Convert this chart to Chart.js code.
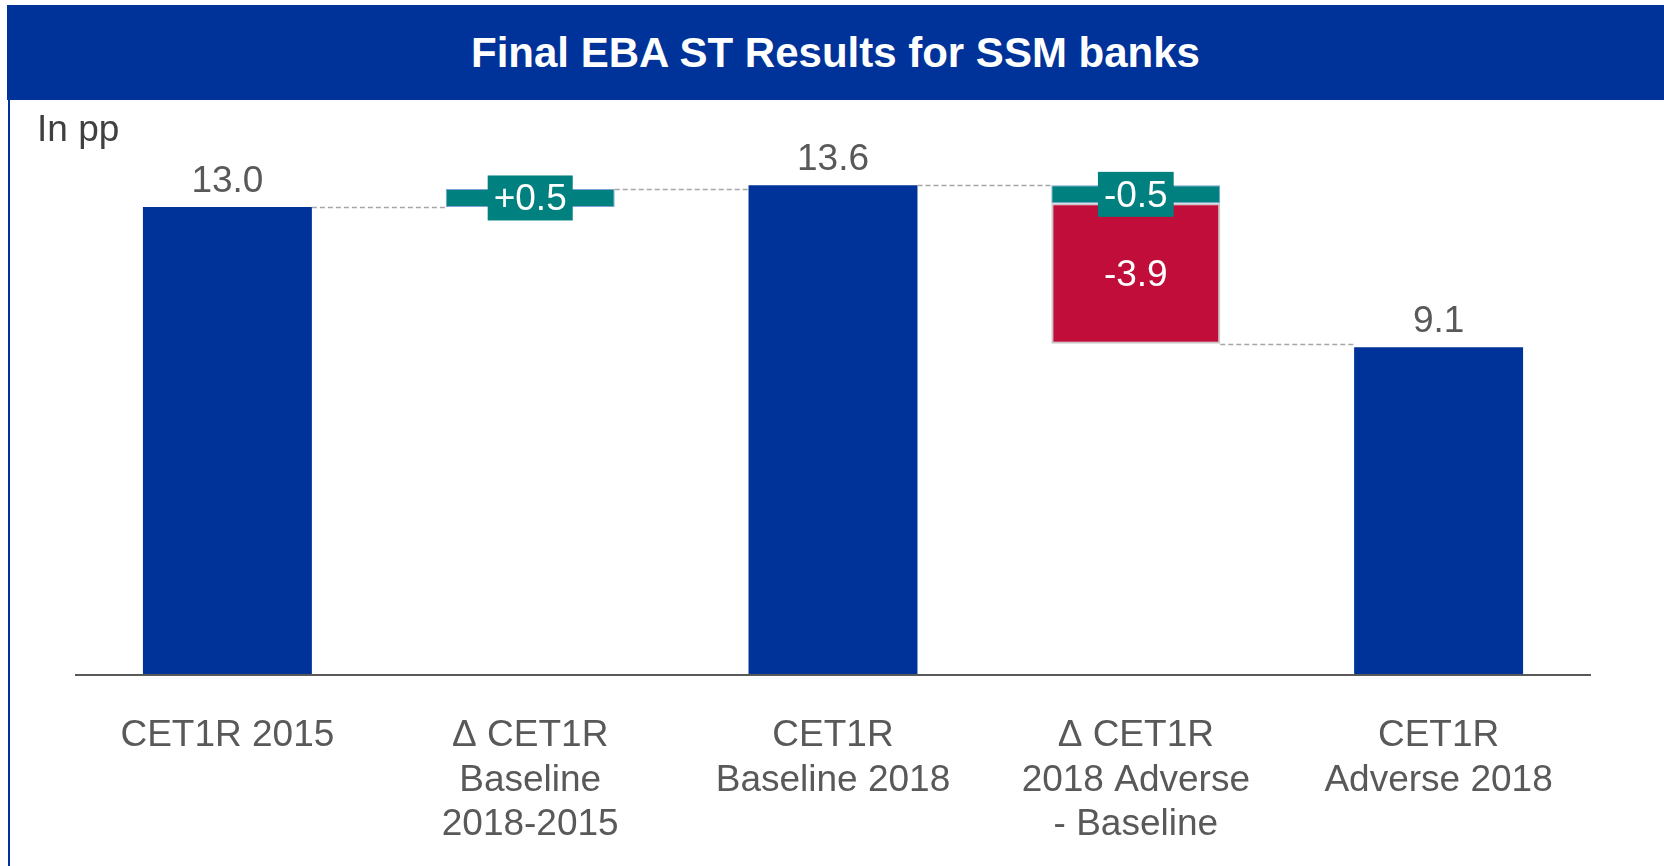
<!DOCTYPE html>
<html>
<head>
<meta charset="utf-8">
<title>Final EBA ST Results for SSM banks</title>
<script src="https://cdn.jsdelivr.net/npm/chart.js@4/dist/chart.umd.min.js"></script>
<style>
    html, body { margin: 0; padding: 0; background: #fff; overflow: hidden; }
    body { width: 1664px; height: 866px; position: relative; font-family: "Liberation Sans", Arial, sans-serif; }
    .banner {
        position: absolute; left: 7px; top: 5px; width: 1657px; height: 95px;
        background: #003399; color: #fff; font-weight: bold; font-size: 42px;
        display: flex; align-items: center; justify-content: center;
    }
    .left-rule { position: absolute; left: 8px; top: 100px; width: 1.5px; height: 766px; background: #003399; }
    .unit { position: absolute; left: 37px; top: 110px; font-size: 37px; line-height: 37px; color: #404040; }
    #chart { position: absolute; left: 0; top: 0; }
</style>
</head>
<body>
<div class="banner">Final EBA ST Results for SSM banks</div>
<div class="left-rule"></div>
<canvas id="chart" width="1664" height="900"></canvas>
<div class="unit">In pp</div>
<script>
// categories and values, in percentage points
const categories = [
    ['CET1R 2015'],
    ['Δ CET1R', 'Baseline', '2018-2015'],
    ['CET1R', 'Baseline 2018'],
    ['Δ CET1R', '2018 Adverse', '- Baseline'],
    ['CET1R', 'Adverse 2018']
];
const totals = [13.0, null, 13.6, null, 9.1];
const deltaTeal = [null, 0.5, null, -0.5, null];
const deltaRed = [null, null, null, -3.9, null];

const BLUE = '#003399';
const TEAL = '#00807f';
const RED = '#c00d3a';
const GREY_TEXT = '#595959';
const FONT = '"Liberation Sans", Arial, sans-serif';

// running level after each column, used for the floating bars and connectors
const levels = [];
const tealRanges = [];
const redRanges = [];
let running = 0;
categories.forEach((c, i) => {
    if (totals[i] !== null) {
        running = totals[i];
        tealRanges.push(null);
        redRanges.push(null);
    } else {
        const t0 = running;
        const t1 = t0 + (deltaTeal[i] || 0);
        tealRanges.push(deltaTeal[i] !== null ? [t0, t1] : null);
        const r1 = t1 + (deltaRed[i] || 0);
        redRanges.push(deltaRed[i] !== null ? [t1, r1] : null);
        running = r1;
    }
    levels.push(running);
});

const waterfallLabels = {
    id: 'waterfallLabels',
    afterDatasetsDraw(chart) {
        const ctx = chart.ctx;
        const y = chart.scales.y;
        const mTot = chart.getDatasetMeta(0).data;
        const mTeal = chart.getDatasetMeta(1).data;
        const mRed = chart.getDatasetMeta(2).data;
        const colEl = i => totals[i] !== null ? mTot[i] : mTeal[i];

        ctx.save();
        // dashed connectors between neighbouring columns
        ctx.strokeStyle = '#a6a6a6';
        ctx.lineWidth = 1.5;
        ctx.setLineDash([5, 3]);
        for (let i = 0; i < categories.length - 1; i++) {
            const a = colEl(i), b = colEl(i + 1);
            const py = Math.round(y.getPixelForValue(levels[i])) + 0.5;
            ctx.beginPath();
            ctx.moveTo(a.x + a.width / 2, py);
            ctx.lineTo(b.x - b.width / 2, py);
            ctx.stroke();
        }
        ctx.setLineDash([]);

        ctx.font = '37px ' + FONT;
        ctx.textAlign = 'center';

        // totals above the blue columns
        ctx.fillStyle = GREY_TEXT;
        ctx.textBaseline = 'alphabetic';
        totals.forEach((v, i) => {
            if (v === null) return;
            const el = mTot[i];
            ctx.fillText(v.toFixed(1), el.x, el.y - 15);
        });

        // red delta: white text inside the bar
        ctx.textBaseline = 'middle';
        deltaRed.forEach((v, i) => {
            if (v === null) return;
            const el = mRed[i];
            ctx.fillStyle = '#fff';
            ctx.fillText(v.toFixed(1), el.x, (el.y + el.base) / 2 + 2);
        });

        // teal deltas: white text on a teal box
        deltaTeal.forEach((v, i) => {
            if (v === null) return;
            const el = mTeal[i];
            const txt = (v > 0 ? '+' : '') + v.toFixed(1);
            const w = ctx.measureText(txt).width + 12;
            const cy = (el.y + el.base) / 2;
            ctx.fillStyle = TEAL;
            ctx.fillRect(el.x - w / 2, cy - 22.5, w, 45);
            ctx.fillStyle = '#fff';
            ctx.fillText(txt, el.x, cy + 2);
        });
        ctx.restore();
    }
};

new Chart(document.getElementById('chart'), {
    type: 'bar',
    data: {
        labels: categories,
        datasets: [
            { data: totals, backgroundColor: BLUE, grouped: false },
            { data: tealRanges, backgroundColor: TEAL, borderColor: '#7f9fd6', borderWidth: 1, borderSkipped: false, grouped: false },
            { data: redRanges, backgroundColor: RED, borderColor: '#c8c8c8', borderWidth: 2, borderSkipped: false, grouped: false }
        ]
    },
    options: {
        responsive: false,
        animation: false,
        barPercentage: 0.558,
        categoryPercentage: 1,
        layout: { padding: { top: 99, bottom: 14, left: 76, right: 74 } },
        plugins: {
            legend: { display: false },
            tooltip: { enabled: false }
        },
        scales: {
            x: {
                grid: { display: false, drawTicks: false },
                border: { display: true, color: GREY_TEXT, width: 2, z: 1 },
                ticks: {
                    color: GREY_TEXT,
                    padding: 39,
                    maxRotation: 0,
                    autoSkip: false,
                    font: { family: FONT, size: 37, lineHeight: 1.2 }
                }
            },
            y: {
                display: false,
                min: 0,
                max: 16
            }
        }
    },
    plugins: [waterfallLabels]
});
</script>
</body>
</html>
